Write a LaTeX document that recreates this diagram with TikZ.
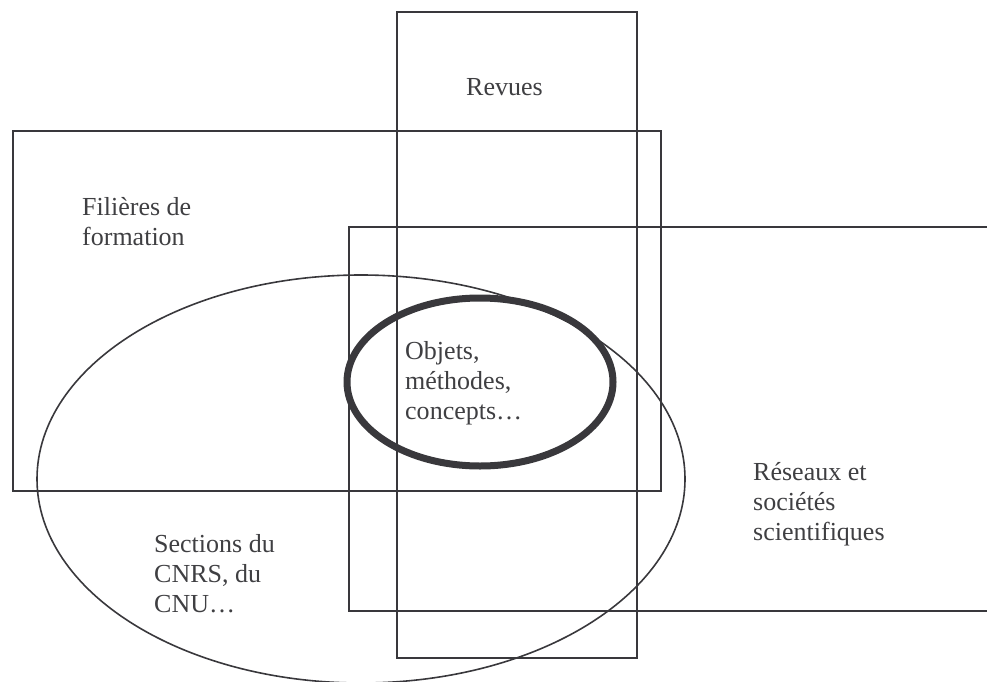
\documentclass[tikz,border=0pt]{standalone}
\usepackage{fontspec}
\setmainfont{Liberation Serif}
\usetikzlibrary{positioning}
\definecolor{ink}{HTML}{39383C}
\definecolor{txt}{HTML}{3F3F42}
\tikzset{
  frame/.style={draw=ink, line width=1.6pt},
  core/.style={draw=ink, line width=7pt},
  label/.style={inner sep=0pt, anchor=base west, align=left, text=txt,
                font=\fontsize{26}{30}\selectfont},
}

\begin{document}
\begin{tikzpicture}[x=1pt, y=-1pt]
  \useasboundingbox (0,0) rectangle (987,682);

  % rectangles
  \draw[frame] (397,12) rectangle (637,658);
  \draw[frame] (13,131) rectangle (661,491);
  \draw[frame] (987,227) -- (349,227) -- (349,611) -- (987,611);

  % ellipses
  \draw[frame] (361,479) ellipse [x radius=324, y radius=204];
  \draw[core] (480,382) ellipse [x radius=133, y radius=84];

  % labels (base = last line)
  \node[label] (revues) at (466,96) {Revues};
  \node[label] (filieres) at (82,245) {Filières de\\formation};
  \node[label] (objets) at (405,419) {Objets,\\méthodes,\\concepts…};
  \node[label] (reseaux) at (753,540) {Réseaux et\\sociétés\\scientifiques};
  \node[label] (sections) at (154,612) {Sections du\\CNRS, du\\CNU…};
\end{tikzpicture}
\end{document}
